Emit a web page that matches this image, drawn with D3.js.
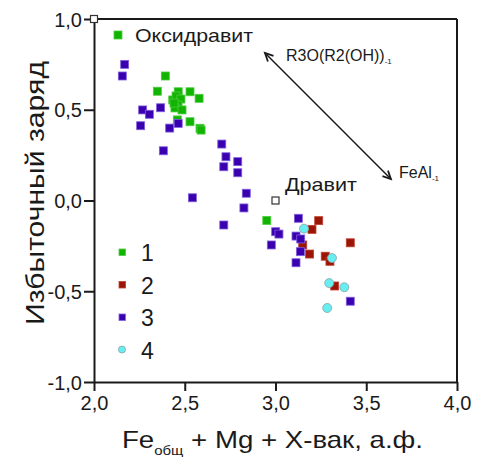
<!DOCTYPE html>
<html>
<head>
<meta charset="utf-8">
<script src="https://cdn.jsdelivr.net/npm/d3@7"></script>
<style>
  body { margin: 0; background: #fff; }
  text { font-family: "Liberation Sans", Arial, sans-serif; fill: #1a1a1a; }
</style>
</head>
<body>
<svg id="chart" width="478" height="457"></svg>
<script>
// series 1 - green
const group1 = [
  [2.393, 0.686], [2.349, 0.602], [2.464, 0.599], [2.529, 0.599], [2.579, 0.563],
  [2.434, 0.554], [2.452, 0.576], [2.479, 0.559], [2.463, 0.526], [2.446, 0.510],
  [2.485, 0.499], [2.441, 0.537], [2.459, 0.444], [2.529, 0.434], [2.584, 0.398],
  [2.590, 0.388], [2.952, -0.110]
];
// series 2 - dark red
const group2 = [
  [3.238, -0.111], [3.201, -0.159], [3.150, -0.245], [3.188, -0.295],
  [3.412, -0.233], [3.274, -0.307], [3.300, -0.335], [3.326, -0.471]
];
// series 3 - blue/violet
const group3 = [
  [2.169, 0.750], [2.156, 0.686], [2.268, 0.499], [2.305, 0.475], [2.367, 0.511],
  [2.257, 0.412], [2.417, 0.399], [2.464, 0.425], [2.382, 0.274], [2.704, 0.311],
  [2.727, 0.241], [2.715, 0.186], [2.792, 0.214], [2.792, 0.153], [2.839, 0.040],
  [2.542, 0.015], [2.826, -0.041], [2.715, -0.135], [3.126, -0.098], [3.001, -0.172],
  [3.019, -0.185], [3.113, -0.196], [3.139, -0.212], [2.977, -0.245], [3.137, -0.282],
  [3.113, -0.343], [3.412, -0.555]
];
// series 4 - cyan circles
const group4 = [
  [3.157, -0.155], [3.311, -0.317], [3.296, -0.455], [3.379, -0.478], [3.285, -0.592]
];
// end members (open squares)
const endMembers = [
  { name: 'Оксидравит', x: 2.0, y: 1.0 },
  { name: 'Дравит', x: 3.0, y: 0.0 }
];
const xTicks = [2.0, 2.5, 3.0, 3.5, 4.0];
const yTicks = [-1.0, -0.5, 0.0, 0.5, 1.0];
const legendLabels = ['1', '2', '3', '4'];

const colors = ['#11b400', '#9a1505', '#3a00b0', '#66eef0'];
const strokes = ['#4ccc40', '#c04030', '#8060e0', '#8aa0a8'];

const svg = d3.select('#chart');

const x = d3.scaleLinear().domain([2, 4]).range([94, 457]);
const y = d3.scaleLinear().domain([-1, 1]).range([382, 19]);

const fmt = d => d.toFixed(1).replace('.', ',');

// frame top and right
svg.append('line').attr('x1', 94).attr('x2', 457).attr('y1', 19).attr('y2', 19)
  .attr('stroke', '#1a1a1a').attr('stroke-width', 2);
svg.append('line').attr('x1', 457).attr('x2', 457).attr('y1', 19).attr('y2', 382)
  .attr('stroke', '#1a1a1a').attr('stroke-width', 2);

// axes
const xAxis = svg.append('g')
  .attr('transform', 'translate(0,382)')
  .call(d3.axisBottom(x).tickValues(xTicks).tickFormat(fmt).tickSize(9).tickSizeOuter(0).tickPadding(5));
const yAxis = svg.append('g')
  .attr('transform', 'translate(94,0)')
  .call(d3.axisLeft(y).tickValues(yTicks).tickFormat(fmt).tickSize(10).tickSizeOuter(0).tickPadding(2));

[xAxis, yAxis].forEach(g => {
  g.select('.domain').attr('stroke', '#1a1a1a').attr('stroke-width', 2);
  g.selectAll('.tick line').attr('stroke', '#1a1a1a').attr('stroke-width', 2);
  g.selectAll('.tick text').style('font-size', '20px')
    .style('font-family', '"Liberation Sans", Arial, sans-serif').attr('fill', '#1a1a1a');
});
yAxis.selectAll('.tick text').attr('dy', '0.36em');

// axis titles
const xt = svg.append('text')
  .attr('x', 122).attr('y', 448)
  .attr('textLength', 301).attr('lengthAdjust', 'spacingAndGlyphs')
  .style('font-size', '24px');
xt.append('tspan').text('Fe');
xt.append('tspan').attr('dy', 7).style('font-size', '13px').text('общ');
xt.append('tspan').attr('dy', -7).text(' + Mg + X-вак, а.ф.');

svg.append('text')
  .attr('transform', 'translate(44,193) rotate(-90)')
  .attr('text-anchor', 'middle')
  .attr('textLength', 264).attr('lengthAdjust', 'spacingAndGlyphs')
  .style('font-size', '25px')
  .text('Избыточный заряд');

// data points
const squareSize = 8;
[group1, group2, group3].forEach((grp, i) => {
  svg.append('g').selectAll('rect')
    .data(grp)
    .join('rect')
    .attr('x', d => x(d[0]) - squareSize / 2)
    .attr('y', d => y(d[1]) - squareSize / 2)
    .attr('width', squareSize)
    .attr('height', squareSize)
    .attr('fill', colors[i])
    .attr('stroke', strokes[i])
    .attr('stroke-width', 0.8);
});
svg.append('g').selectAll('circle')
  .data(group4)
  .join('circle')
  .attr('cx', d => x(d[0]))
  .attr('cy', d => y(d[1]))
  .attr('r', 4.5)
  .attr('fill', colors[3])
  .attr('stroke', strokes[3])
  .attr('stroke-width', 0.8);

// end members
svg.append('g').selectAll('rect')
  .data(endMembers)
  .join('rect')
  .attr('x', d => x(d.x) - 3.5)
  .attr('y', d => y(d.y) - 3.5)
  .attr('width', 7)
  .attr('height', 7)
  .attr('fill', '#fff')
  .attr('stroke', '#333')
  .attr('stroke-width', 1.2);

// oxydravite label with green marker
svg.append('rect').attr('x', 114).attr('y', 31).attr('width', 8).attr('height', 8)
  .attr('fill', colors[0]).attr('stroke', strokes[0]).attr('stroke-width', 0.8);
svg.append('text').attr('x', 135).attr('y', 42)
  .attr('textLength', 118).attr('lengthAdjust', 'spacingAndGlyphs')
  .style('font-size', '19px').text(endMembers[0].name);
svg.append('text').attr('x', 285).attr('y', 191)
  .attr('textLength', 72).attr('lengthAdjust', 'spacingAndGlyphs')
  .style('font-size', '19px').text(endMembers[1].name);

// double-headed arrow
const head = (tx, ty, ang) => {
  const l = 9, w = 0.45;
  return `M${tx + l * Math.cos(ang + w)},${ty + l * Math.sin(ang + w)}L${tx},${ty}L${tx + l * Math.cos(ang - w)},${ty + l * Math.sin(ang - w)}`;
};
const ax1 = x(2.942), ay1 = y(0.813), ax2 = x(3.636), ay2 = y(0.118);
const ang = Math.atan2(ay2 - ay1, ax2 - ax1);
svg.append('line').attr('x1', ax1).attr('y1', ay1).attr('x2', ax2).attr('y2', ay2)
  .attr('stroke', '#1a1a1a').attr('stroke-width', 1.5);
svg.append('path').attr('d', head(ax1, ay1, ang)).attr('fill', 'none').attr('stroke', '#1a1a1a').attr('stroke-width', 1.8);
svg.append('path').attr('d', head(ax2, ay2, ang + Math.PI)).attr('fill', 'none').attr('stroke', '#1a1a1a').attr('stroke-width', 1.8);

const t1 = svg.append('text').attr('x', 286).attr('y', 61).style('font-size', '16px');
t1.append('tspan').text('R3O(R2(OH))');
t1.append('tspan').attr('dy', 3).style('font-size', '8px').text('-1');
const t2 = svg.append('text').attr('x', 399).attr('y', 178).style('font-size', '16px');
t2.append('tspan').text('FeAl');
t2.append('tspan').attr('dy', 3).style('font-size', '8px').text('-1');

// legend
const legend = svg.append('g');
legendLabels.forEach((lab, i) => {
  const cy = 252 + i * 32.5;
  if (i === 3) {
    legend.append('circle').attr('cx', 122).attr('cy', cy).attr('r', 3.5)
      .attr('fill', colors[i]).attr('stroke', strokes[i]).attr('stroke-width', 0.8);
  } else {
    legend.append('rect').attr('x', 119).attr('y', cy - 3).attr('width', 6.5).attr('height', 6.5)
      .attr('fill', colors[i]).attr('stroke', strokes[i]).attr('stroke-width', 0.8);
  }
  legend.append('text').attr('x', 141).attr('y', cy + 9).style('font-size', '23px').text(lab);
});
</script>
</body>
</html>
